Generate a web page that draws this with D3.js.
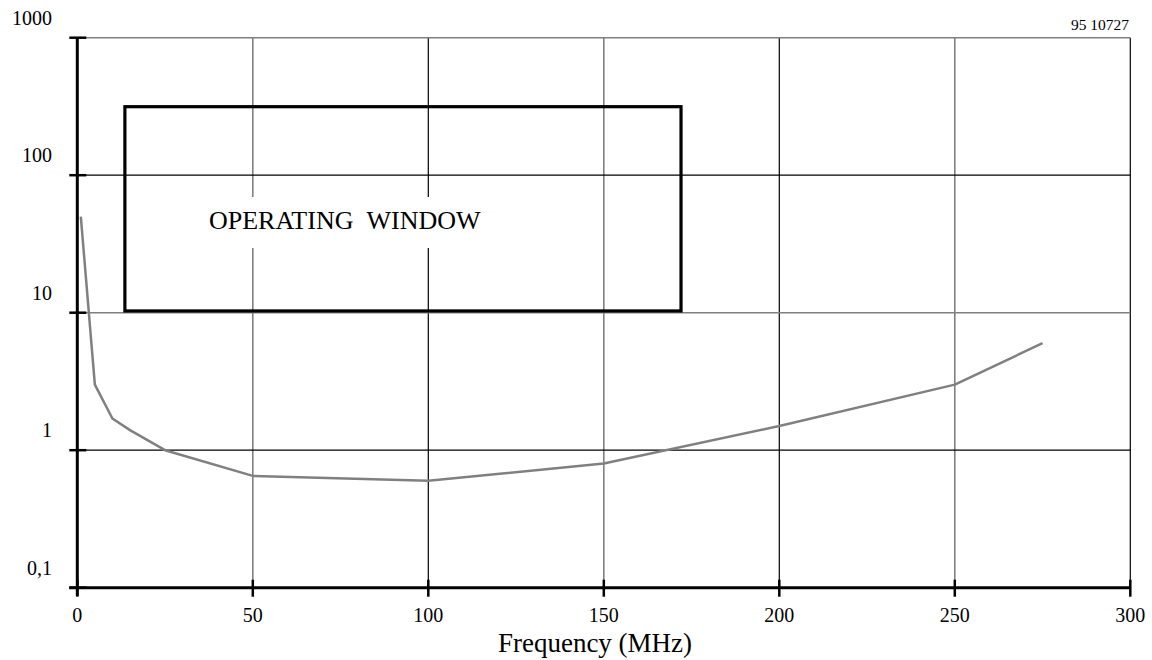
<!DOCTYPE html>
<html>
    <head>
        <title>Operating window</title>
        <style>
            body { margin: 0; background: #fff; }
            text { font-family: "Liberation Serif", "Times New Roman", serif; fill: #000; }
        </style>
    </head>

    <body>
        <div id="chart"></div>

        <script src="https://cdn.jsdelivr.net/npm/d3@7"></script>
        <script>
            // curve
            var freq = [1, 5, 10, 15, 25, 50, 100, 150, 200, 250, 275];
            var level = [50, 3, 1.7, 1.4, 1.0, 0.65, 0.6, 0.8, 1.5, 3.0, 6.0];

            var xTicks = [0, 50, 100, 150, 200, 250, 300];
            var yTicks = [0.1, 1, 10, 100, 1000];
            var yTickLabels = ["0,1", "1", "10", "100", "1000"];

            // operating window box
            var windowFreq = [13.56, 172];
            var windowLevel = [10.3, 315];

            var w = 1152, h = 660;
            var svg = d3.select("#chart").append("svg")
                .attr("width", w)
                .attr("height", h);

            var x = d3.scaleLinear().domain([0, 300]).range([77.3, 1130.3]);
            var y = d3.scaleLog().domain([0.1, 1000]).range([587.7, 37.7]);

            // grid
            svg.selectAll(".vgrid")
                .data(xTicks.slice(1))
                .enter().append("line")
                    .attr("class", "vgrid")
                    .attr("x1", function(d) { return x(d); })
                    .attr("x2", function(d) { return x(d); })
                    .attr("y1", y(1000))
                    .attr("y2", y(0.1))
                    .style("stroke", function(d) { return d % 100 == 0 ? "#000" : "#808080"; })
                    .style("stroke-width", function(d) { return d % 100 == 0 ? 1.2 : 1.6; });

            svg.selectAll(".hgrid")
                .data(yTicks.slice(1))
                .enter().append("line")
                    .attr("class", "hgrid")
                    .attr("x1", x(0))
                    .attr("x2", x(300))
                    .attr("y1", function(d) { return y(d); })
                    .attr("y2", function(d) { return y(d); })
                    .style("stroke", function(d, i) { return i % 2 == 0 ? "#000" : "#808080"; })
                    .style("stroke-width", function(d, i) { return i % 2 == 0 ? 1.2 : 1.6; });

            // axes
            svg.append("line")
                .attr("x1", x(0)).attr("x2", x(0))
                .attr("y1", y(1000)).attr("y2", y(0.1) + 8)
                .style("stroke", "#000").style("stroke-width", 3);
            svg.append("line")
                .attr("x1", x(0) - 8).attr("x2", x(300))
                .attr("y1", y(0.1)).attr("y2", y(0.1))
                .style("stroke", "#000").style("stroke-width", 3);

            svg.selectAll(".ytick")
                .data(yTicks)
                .enter().append("line")
                    .attr("class", "ytick")
                    .attr("x1", x(0) - 8).attr("x2", x(0) + 9)
                    .attr("y1", function(d) { return y(d); })
                    .attr("y2", function(d) { return y(d); })
                    .style("stroke", "#000").style("stroke-width", 2.5);

            svg.selectAll(".xtick")
                .data(xTicks)
                .enter().append("line")
                    .attr("class", "xtick")
                    .attr("x1", function(d) { return x(d); })
                    .attr("x2", function(d) { return x(d); })
                    .attr("y1", y(0.1) - 8).attr("y2", y(0.1) + 9)
                    .style("stroke", "#000").style("stroke-width", 2.5);

            svg.selectAll(".ylabel")
                .data(yTicks)
                .enter().append("text")
                    .attr("class", "ylabel")
                    .text(function(d, i) { return yTickLabels[i]; })
                    .attr("x", 52)
                    .attr("y", function(d) { return y(d) - 13; })
                    .attr("text-anchor", "end")
                    .style("font-size", "20px");

            svg.selectAll(".xlabel")
                .data(xTicks)
                .enter().append("text")
                    .attr("class", "xlabel")
                    .text(function(d) { return d; })
                    .attr("x", function(d) { return x(d); })
                    .attr("y", 621.5)
                    .attr("text-anchor", "middle")
                    .style("font-size", "20px");

            svg.append("text")
                .text("Frequency (MHz)")
                .attr("x", 595)
                .attr("y", 651.5)
                .attr("text-anchor", "middle")
                .style("font-size", "27px");

            svg.append("text")
                .text("95 10727")
                .attr("x", 1129)
                .attr("y", 30)
                .attr("text-anchor", "end")
                .style("font-size", "15.5px");

            // operating window
            svg.append("rect")
                .attr("x", x(windowFreq[0]))
                .attr("y", y(windowLevel[1]))
                .attr("width", x(windowFreq[1]) - x(windowFreq[0]))
                .attr("height", y(windowLevel[0]) - y(windowLevel[1]))
                .style("fill", "none")
                .style("stroke", "#000")
                .style("stroke-width", 3.2);

            svg.append("rect")
                .attr("x", 205).attr("y", 197)
                .attr("width", 285).attr("height", 51)
                .style("fill", "#fff");

            svg.append("text")
                .text("OPERATING\u00a0\u00a0WINDOW")
                .attr("x", 209)
                .attr("y", 229)
                .style("font-size", "26px");

            // curve
            var line = d3.line()
                .x(function(d, i) { return x(freq[i]); })
                .y(function(d) { return y(d); });

            svg.append("path")
                .datum(level)
                .attr("d", line)
                .style("fill", "none")
                .style("stroke", "#808080")
                .style("stroke-width", 2.5)
                .style("stroke-linejoin", "round");
        </script>
    </body>
</html>
